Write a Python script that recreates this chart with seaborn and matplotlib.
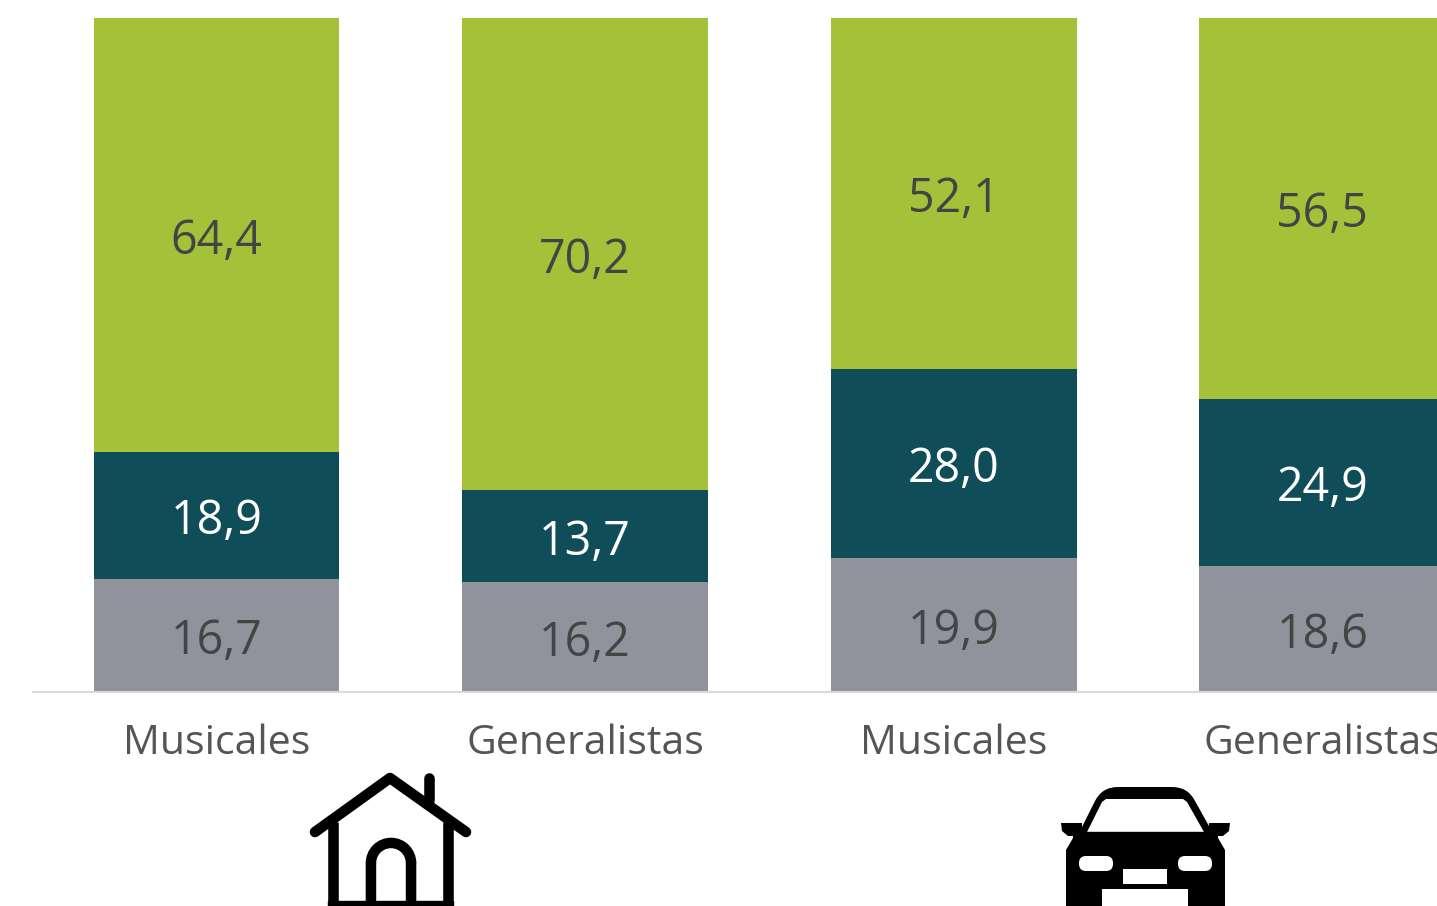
import matplotlib
matplotlib.use('Agg')
import matplotlib.pyplot as plt
from matplotlib.patches import Polygon, Rectangle, FancyBboxPatch, Wedge, PathPatch
from matplotlib.path import Path
import pandas as pd
import seaborn as sns

categories = ['Musicales', 'Generalistas', 'Musicales ', 'Generalistas ']
bottom_vals = [16.7, 16.2, 19.9, 18.6]
middle_vals = [18.9, 13.7, 28.0, 24.9]
top_vals = [64.4, 70.2, 52.1, 56.5]

GREEN = '#a3c239'
TEAL = '#0f4e58'
GRAY = '#90939b'
DARK = '#444444'

W, H = 1437, 906
sns.set_theme(style='white')
plt.rcParams['font.family'] = ['Open Sans', 'DejaVu Sans']

df = pd.DataFrame({'cat': categories, 'bottom': bottom_vals, 'middle': middle_vals, 'top': top_vals})
df['b2'] = df['bottom'] + df['middle']
df['b3'] = df['b2'] + df['top']

fig = plt.figure(figsize=(W / 100, H / 100), dpi=100)
# axes covers the baseline from x=32 to the right edge, bars from y=18 to y=691
ax = fig.add_axes([32.5 / W, 1 - 691.6 / H, (W - 32.5) / W, (691.6 - 18) / H])

# cumulative layers, back to front
for col, c in [('b3', GREEN), ('b2', TEAL), ('bottom', GRAY)]:
    sns.barplot(data=df, x='cat', y=col, color=c, width=0.6667, saturation=1,
                linewidth=0, edgecolor='none', ax=ax)

# one category step is 368.6 px, first bar centre at 216.5
step = 368.6
ax.set_xlim(-(216.5 - 32.5) / step, -(216.5 - 32.5) / step + (W - 32.5) / step)
ax.set_ylim(0, 100)
ax.set_xlabel('')
ax.set_ylabel('')
ax.set_yticks([])
ax.set_xticks(range(4))
ax.set_xticklabels([c.strip() for c in categories], fontsize=29.5, color='#555555')
ax.tick_params(axis='x', length=0, pad=23)
sns.despine(ax=ax, left=True, top=True, right=True)
ax.spines['bottom'].set_color('#d9d9d9')
ax.spines['bottom'].set_linewidth(1.5)


def put_label(i, y, val, color):
    # va=center counts the comma's tail, so push it down a little
    ax.annotate(f'{val:.1f}'.replace('.', ','), (i, y), xytext=(0, -4.5), textcoords='offset points',
                ha='center', va='center', fontsize=33.5, color=color)


for i in range(4):
    put_label(i, bottom_vals[i] / 2, bottom_vals[i], DARK)
    put_label(i, bottom_vals[i] + middle_vals[i] / 2, middle_vals[i], 'white')
    put_label(i, df['b2'][i] + top_vals[i] / 2, top_vals[i], DARK)

# icons go on a pixel overlay, y down
ov = fig.add_axes([0, 0, 1, 1])
ov.set_xlim(0, W)
ov.set_ylim(H, 0)
ov.axis('off')
ov.patch.set_alpha(0)

# house
LW = 7.6
ov.plot([333, 333], [822, 906], color='black', lw=LW, solid_capstyle='butt')
ov.plot([448, 448], [822, 906], color='black', lw=LW, solid_capstyle='butt')
ov.plot([428.5, 428.5], [778, 800], color='black', lw=LW, solid_capstyle='round')
ov.plot([315, 390, 466], [832, 778, 832], color='black', lw=LW, solid_capstyle='round', solid_joinstyle='round')
# door: snapping off, otherwise the jambs and the arch don't line up
ov.add_patch(Rectangle((365.7, 862), 10.5, 44, facecolor='black', edgecolor='none', snap=False))
ov.add_patch(Rectangle((405.8, 862), 10.5, 44, facecolor='black', edgecolor='none', snap=False))
ov.add_patch(Wedge((391, 863), 25.3, 180, 360, width=10.5, facecolor='black', edgecolor='none'))
ov.add_patch(Rectangle((328, 901), 125, 5, color='black'))

# car roof and window, corners rounded with quadratic curves
c3 = Path.CURVE3
roof_v = [(1078, 835), (1095, 801), (1102, 787), (1118, 787), (1172, 787), (1188, 787), (1195, 801), (1214, 835), (1078, 835)]
roof_c = [Path.MOVETO, Path.LINETO, c3, c3, Path.LINETO, c3, c3, Path.LINETO, Path.CLOSEPOLY]
ov.add_patch(PathPatch(Path(roof_v, roof_c), facecolor='black', edgecolor='none'))
ov.add_patch(Polygon([[1087, 832], [1102, 802], [1106, 799], [1183, 799], [1187, 802], [1204, 832]],
                     closed=True, facecolor='white', edgecolor='none'))
# mirrors
ov.add_patch(Polygon([[1061, 823], [1082, 823], [1082, 836], [1068, 836], [1062, 831]],
                     closed=True, facecolor='black', edgecolor='none'))
ov.add_patch(Polygon([[1230, 823], [1209, 823], [1209, 836], [1223, 836], [1229, 831]],
                     closed=True, facecolor='black', edgecolor='none'))
# body
ov.add_patch(Polygon([[1073, 832], [1218, 832], [1218, 838], [1225, 850], [1225, 906], [1066, 906], [1066, 850], [1073, 838]],
                     closed=True, facecolor='black', edgecolor='none'))
ov.add_patch(Rectangle((1081, 832), 130, 2, color='black'))
ov.add_patch(FancyBboxPatch((1079, 856), 34, 15, boxstyle='round,pad=0,rounding_size=7', facecolor='white', edgecolor='none'))
ov.add_patch(FancyBboxPatch((1178, 856), 34, 15, boxstyle='round,pad=0,rounding_size=7', facecolor='white', edgecolor='none'))
ov.add_patch(Rectangle((1123, 869), 44, 15, facecolor='white', edgecolor='none'))
ov.add_patch(Rectangle((1102, 889), 86, 17, facecolor='white', edgecolor='none'))

fig.savefig('out.png', dpi=100, facecolor='white')
